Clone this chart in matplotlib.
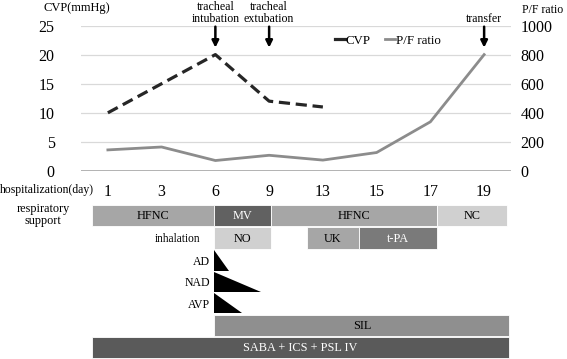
import matplotlib
matplotlib.use("Agg")
import matplotlib.pyplot as plt
from matplotlib.lines import Line2D

plt.rcParams['font.family'] = ['Liberation Serif', 'DejaVu Serif']

# ---------------- data ----------------
days = ["1", "3", "6", "9", "13", "15", "17", "19"]
cvp = [10, 15, 20, 12, 11]                     # mmHg, days 1..13
pf_ratio = [145, 165, 72, 108, 75, 127, 338, 800]

cvp_ticks = [0, 5, 10, 15, 20, 25]
pf_ticks = [0, 200, 400, 600, 800, 1000]

# timeline segments: (label, start, end) in day-index units
resp_support = [("HFNC", -0.30, 1.97), ("MV", 1.97, 3.03),
                ("HFNC", 3.03, 6.12), ("NC", 6.12, 7.43)]
inhalation = [("NO", 1.98, 3.03)]
thrombolysis = [("UK", 3.70, 4.67), ("t-PA", 4.67, 6.12)]
vasopressors = [("AD", 1.98, 2.26), ("NAD", 1.98, 2.85), ("AVP", 1.98, 2.50)]
sil = ("SIL", 1.98, 7.47)
saba = ("SABA + ICS + PSL IV", -0.30, 7.47)

events = [("tracheal\nintubation", 2), ("tracheal\nextubation", 3), ("transfer", 7)]

# ---------------- figure ----------------
W, H = 567, 359
fig = plt.figure(figsize=(W / 100, H / 100), dpi=100)

def fx(px):
    return px / W

def fy(py):
    return 1 - py / H

L, R = 81, 511
ax = fig.add_axes([fx(L), fy(171), fx(R - L), fy(25.5) - fy(171)])
x = list(range(len(days)))
ax.set_xlim(-0.5, len(days) - 0.5)
ax.set_ylim(0, 25)
for s in ax.spines.values():
    s.set_visible(False)
ax.set_yticks(cvp_ticks)
ax.grid(axis='y', color='#d9d9d9', linewidth=0.9)
ax.axhline(0, color='#a6a6a6', linewidth=1.2, zorder=1)
ax.set_axisbelow(True)
ax.tick_params(axis='both', length=0, labelsize=11.5)
ax.tick_params(axis='y', pad=19)
ax.tick_params(axis='x', pad=9)
ax.set_xticks(x)
ax.set_xticklabels(days)

ax2 = ax.twinx()
ax2.set_ylim(0, 1000)
ax2.set_yticks(pf_ticks)
for s in ax2.spines.values():
    s.set_visible(False)
ax2.tick_params(axis='y', length=0, labelsize=11.5, pad=7)

ax.plot(x[:len(cvp)], cvp, color='#262626', linewidth=2.3,
        dashes=(3.5, 1.8), zorder=3)
ax2.plot(x, pf_ratio, color='#8c8c8c', linewidth=2.0, zorder=3)

# event labels and arrows
for label, xi in events:
    ax.text(xi, 1.003, label, transform=ax.get_xaxis_transform(),
            ha='center', va='bottom', fontsize=8.6, linespacing=0.98,
            clip_on=False)
    ax.annotate("", xy=(xi, 21.2), xytext=(xi, 24.8),
                arrowprops=dict(arrowstyle='-|>', color='black', lw=1.8,
                                mutation_scale=10, shrinkA=0, shrinkB=0),
                annotation_clip=False)

# axis titles
fig.text(fx(43), fy(8), "CVP(mmHg)", fontsize=9, ha='left', va='center')
fig.text(fx(522), fy(10), "P/F ratio", fontsize=8.5, ha='left', va='center')
fig.text(fx(0), fy(190), "hospitalization(day)", fontsize=8.5,
         ha='left', va='center')

# legend
handles = [Line2D([], [], color='#262626', linewidth=2.3),
           Line2D([], [], color='#8c8c8c', linewidth=2.0)]
fig.legend(handles, ["CVP", "P/F ratio"], loc='center',
           bbox_to_anchor=(fx(388), fy(41)), ncol=2, frameon=False,
           fontsize=9.3, handlelength=0.75, handletextpad=0.1,
           columnspacing=1.1)

# ---------------- timeline panel ----------------
tx = fig.add_axes([fx(L), 0, fx(R - L), fy(200)])
tx.set_xlim(-0.5, len(days) - 0.5)
tx.set_ylim(H, 200)
tx.axis('off')

rows = {"resp": (205, 226), "inh": (227, 249), "AD": (250, 271),
        "NAD": (271.5, 292), "AVP": (293, 313), "SIL": (315, 336),
        "SABA": (337, 358)}

seg_colors = {"HFNC": '#a6a6a6', "MV": '#616161', "NC": '#d0d0d0',
              "NO": '#d0d0d0', "UK": '#a6a6a6', "t-PA": '#7a7a7a',
              "SIL": '#8f8f8f', "SABA + ICS + PSL IV": '#5a5a5a'}
white_text = {"MV", "t-PA", "SABA + ICS + PSL IV"}

def draw_segs(segs, row):
    y0, y1 = rows[row]
    for lab, s, e in segs:
        tx.barh((y0 + y1) / 2, e - s, left=s, height=y1 - y0,
                color=seg_colors[lab], edgecolor='white', linewidth=0.6)
        tx.text((s + e) / 2, (y0 + y1) / 2 + 0.5, lab, ha='center',
                va='center', fontsize=8.8,
                color='white' if lab in white_text else 'black')

draw_segs(resp_support, "resp")
draw_segs(inhalation, "inh")
draw_segs(thrombolysis, "inh")
draw_segs([sil], "SIL")
draw_segs([saba], "SABA")

for lab, s, e in vasopressors:
    y0, y1 = rows[lab]
    tx.fill([s, s, e], [y0, y1, y1], color='black', linewidth=0)
    fig.text(fx(210), fy((y0 + y1) / 2 + 1.5), lab, ha='right',
             va='center', fontsize=8.5)

fig.text(fx(43), fy(215), "respiratory\nsupport", ha='center', va='center',
         fontsize=8.8, linespacing=1.0)
fig.text(fx(200), fy(238.5), "inhalation", ha='right', va='center',
         fontsize=8.3)

fig.savefig("out.png", dpi=100)
